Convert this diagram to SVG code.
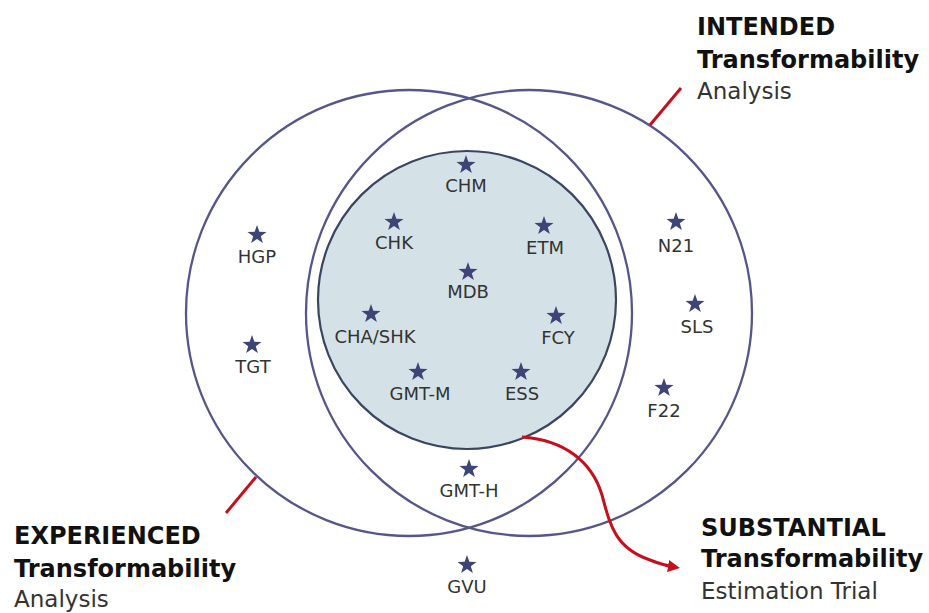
<svg xmlns="http://www.w3.org/2000/svg" xmlns:xlink="http://www.w3.org/1999/xlink" width="929" height="613" viewBox="0 0 929 613">
  <style>
    .ring { fill: none; stroke: #55568a; stroke-width: 2.3; }
    .core { fill: #d4e2e7; stroke: #3a4560; stroke-width: 2.2; }
    .star { fill: #3d4577; }
    .site { font-family: "DejaVu Sans", "Liberation Sans", sans-serif; font-size: 18px; fill: #333; text-anchor: middle; }
    .head { font-family: "DejaVu Sans", "Liberation Sans", sans-serif; font-size: 24px; font-weight: bold; fill: #111; }
    .sub { font-family: "DejaVu Sans", "Liberation Sans", sans-serif; font-size: 23px; fill: #333; }
    .red { fill: none; stroke: #c3101c; stroke-width: 3; }
  </style>
  <defs>
    <path id="star" d="M0,-10 L2.35,-3.24 L9.51,-3.09 L3.8,1.23 L5.88,8.09 L0,4 L-5.88,8.09 L-3.8,1.23 L-9.51,-3.09 L-2.35,-3.24 Z"/>
    <marker id="arrow" viewBox="0 0 10 10" refX="5" refY="5" markerWidth="4" markerHeight="4" orient="auto" markerUnits="strokeWidth">
      <path d="M0,0 L10,5 L0,10 Z" fill="#c3101c"/>
    </marker>
  </defs>

  <rect width="929" height="613" fill="#ffffff"/>

  <!-- analysis sets -->
  <g id="experienced">
    <circle class="ring" cx="409" cy="313" r="223"/>
    <text class="head" x="14" y="544">EXPERIENCED</text>
    <text class="head" x="14" y="577">Transformability</text>
    <text class="sub" x="14" y="607">Analysis</text>
  </g>
  <g id="intended">
    <circle class="ring" cx="529" cy="313" r="223"/>
    <text class="head" x="697" y="35">INTENDED</text>
    <text class="head" x="697" y="68">Transformability</text>
    <text class="sub" x="697" y="99">Analysis</text>
  </g>
  <g id="substantial">
    <circle class="core" cx="467" cy="300" r="149"/>
    <text class="head" x="701" y="536">SUBSTANTIAL</text>
    <text class="head" x="701" y="567">Transformability</text>
    <text class="sub" x="701" y="599">Estimation Trial</text>
  </g>

  <!-- sites -->
  <g id="site-chm"><use xlink:href="#star" class="star" x="466" y="165"/><text class="site" x="466" y="192">CHM</text></g>
  <g id="site-chk"><use xlink:href="#star" class="star" x="394" y="222"/><text class="site" x="394" y="249">CHK</text></g>
  <g id="site-etm"><use xlink:href="#star" class="star" x="544" y="226"/><text class="site" x="545" y="254">ETM</text></g>
  <g id="site-mdb"><use xlink:href="#star" class="star" x="468" y="272"/><text class="site" x="468" y="298">MDB</text></g>
  <g id="site-chashk"><use xlink:href="#star" class="star" x="371" y="314"/><text class="site" x="375" y="343">CHA/SHK</text></g>
  <g id="site-fcy"><use xlink:href="#star" class="star" x="556" y="316"/><text class="site" x="558" y="344">FCY</text></g>
  <g id="site-gmtm"><use xlink:href="#star" class="star" x="418" y="372"/><text class="site" x="420" y="400">GMT-M</text></g>
  <g id="site-ess"><use xlink:href="#star" class="star" x="521" y="372"/><text class="site" x="522" y="400">ESS</text></g>
  <g id="site-gmth"><use xlink:href="#star" class="star" x="469" y="469"/><text class="site" x="469" y="497">GMT-H</text></g>
  <g id="site-gvu"><use xlink:href="#star" class="star" x="467" y="565"/><text class="site" x="467" y="593">GVU</text></g>
  <g id="site-hgp"><use xlink:href="#star" class="star" x="257" y="235"/><text class="site" x="257" y="263">HGP</text></g>
  <g id="site-tgt"><use xlink:href="#star" class="star" x="252" y="345"/><text class="site" x="253" y="373">TGT</text></g>
  <g id="site-n21"><use xlink:href="#star" class="star" x="676" y="222"/><text class="site" x="676" y="252">N21</text></g>
  <g id="site-sls"><use xlink:href="#star" class="star" x="695" y="304"/><text class="site" x="697" y="333">SLS</text></g>
  <g id="site-f22"><use xlink:href="#star" class="star" x="664" y="388"/><text class="site" x="664" y="417">F22</text></g>

  <!-- leader lines -->
  <g id="connectors">
    <line class="red" x1="650" y1="125" x2="681" y2="88"/>
    <line class="red" x1="256" y1="477" x2="226" y2="513"/>
    <path class="red" d="M522,437 C565,440 592,462 602,495 C610,525 615,548 650,560 C660,564 668,566 674,567" marker-end="url(#arrow)"/>
  </g>
</svg>
